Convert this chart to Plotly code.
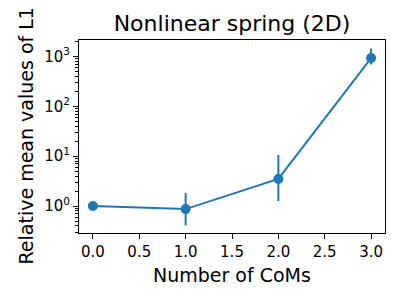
import plotly.graph_objects as go

x_vals = [0, 1, 2, 3]
y_vals = [1.0, 0.87, 3.5, 930]
err_plus = [0.0, 0.96, 7.1, 510]
err_minus = [0.0, 0.46, 2.24, 240]

x_tickvals = [0.0, 0.5, 1.0, 1.5, 2.0, 2.5, 3.0]
x_ticktext = ["0.0", "0.5", "1.0", "1.5", "2.0", "2.5", "3.0"]
y_tickvals = [1, 10, 100, 1000]
y_ticktext = ["10<sup>0</sup>", "10<sup>1</sup>", "10<sup>2</sup>", "10<sup>3</sup>"]
y_minor = [k * 10 ** d for d in range(-1, 4) for k in range(2, 10)]

title_text = "Nonlinear spring (2D)"
x_title = "Number of CoMs"
y_title = "Relative mean values of L1"

blue = "#1f77b4"
font = "DejaVu Sans"

# page has an 8px body margin; figure is sized so that it fills the 400x300 window
OFF = 8
W, H = 400 - OFF, 300 - OFF
L, R, T, B = 79 - OFF, 15, 40 - OFF, 67
pw, ph = W - L - R, H - T - B

fig = go.Figure(go.Scatter(
    x=x_vals, y=y_vals, mode="lines+markers",
    line=dict(color=blue, width=2),
    marker=dict(color=blue, size=10),
    error_y=dict(type="data", symmetric=False, array=err_plus, arrayminus=err_minus,
                 color=blue, thickness=2, width=0),
))

fig.update_layout(
    width=W, height=H,
    margin=dict(l=L, r=R, t=T, b=B, autoexpand=False),
    paper_bgcolor="white", plot_bgcolor="white",
    showlegend=False,
    font=dict(family=font, color="black"),
    title=dict(text=title_text, x=(L + pw / 2) / W, xanchor="center",
               y=1 - (23 - OFF) / H, yref="container", yanchor="middle",
               font=dict(size=22, family=font, color="black")),
    annotations=[
        dict(text=x_title, xref="paper", yref="paper", x=0.5,
             y=-((275 - OFF) - T - ph) / ph,
             xanchor="center", yanchor="middle", showarrow=False,
             font=dict(size=19, family=font, color="black")),
        dict(text=y_title, xref="paper", yref="paper", x=((25 - OFF) - L) / pw, y=0.5,
             xanchor="center", yanchor="middle", textangle=-90, showarrow=False,
             font=dict(size=19, family=font, color="black")),
    ],
)
fig.update_xaxes(
    range=[-0.15, 3.15], tickvals=x_tickvals, ticktext=x_ticktext, automargin=False,
    showgrid=False, zeroline=False, showline=True, linecolor="black", linewidth=1,
    mirror=True, ticks="outside", ticklen=5, tickcolor="black",
    tickfont=dict(size=15, family=font),
)
fig.update_yaxes(
    type="log", range=[-0.54, 3.33], tickvals=y_tickvals, ticktext=y_ticktext, automargin=False,
    showgrid=False, zeroline=False, showline=True, linecolor="black", linewidth=1,
    mirror=True, ticks="outside", ticklen=5, tickcolor="black",
    tickfont=dict(size=15, family=font),
    minor=dict(tickvals=y_minor, ticks="outside", ticklen=3, tickcolor="black", showgrid=False),
)

fig.write_html("out.html")
